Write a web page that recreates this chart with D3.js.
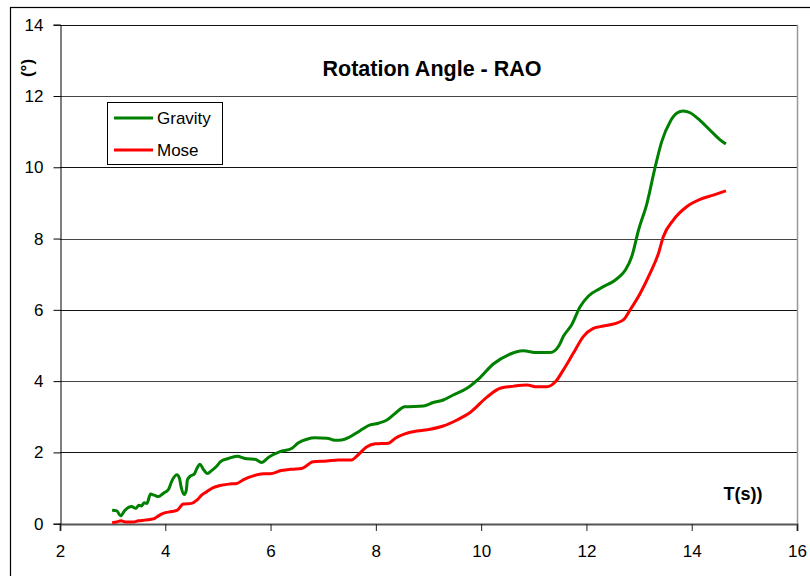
<!DOCTYPE html>
<html>
<head>
<meta charset="utf-8">
<script src="https://cdn.jsdelivr.net/npm/d3@7"></script>
<style>
  body { margin: 0; background: #fff; }
  svg { display: block; font-family: "Liberation Sans", Arial, sans-serif; }
</style>
</head>
<body>
<div class="svg"></div>
<script>
var gravityT = [2.99, 3.08, 3.15, 3.23, 3.36, 3.44, 3.50, 3.55, 3.60, 3.65, 3.72, 3.79, 3.87, 3.96, 4.06, 4.12,
  4.22, 4.27, 4.30, 4.36, 4.40, 4.42, 4.48, 4.55, 4.60, 4.66, 4.72, 4.80, 4.88, 4.98, 5.05, 5.20, 5.36,
  5.55, 5.70, 5.83, 5.97, 6.18, 6.40, 6.53, 6.69, 6.84, 7.07, 7.22, 7.35, 7.51, 7.70, 7.89, 8.05, 8.21,
  8.37, 8.55, 8.90, 9.09, 9.28, 9.47, 9.73, 9.98, 10.23, 10.52, 10.80, 11.06, 11.31, 11.48, 11.56, 11.72,
  11.88, 12.04, 12.26, 12.61, 12.74, 12.86, 12.99, 13.15, 13.30, 13.43, 13.59, 13.72, 13.84, 13.97, 14.16,
  14.41, 14.54, 14.65];
var gravityAngle = [0.38, 0.36, 0.22, 0.37, 0.48, 0.43, 0.52, 0.50, 0.59, 0.57, 0.83, 0.80, 0.76, 0.85, 0.96, 1.18,
  1.37, 1.27, 1.04, 0.82, 0.95, 1.23, 1.34, 1.39, 1.55, 1.67, 1.53, 1.41, 1.49, 1.62, 1.74, 1.83, 1.89,
  1.82, 1.81, 1.72, 1.87, 2.02, 2.11, 2.27, 2.37, 2.41, 2.40, 2.34, 2.35, 2.44, 2.61, 2.77, 2.82, 2.91,
  3.10, 3.28, 3.30, 3.40, 3.47, 3.61, 3.80, 4.10, 4.48, 4.74, 4.85, 4.80, 4.80, 5.00, 5.25, 5.58,
  6.09, 6.39, 6.60, 6.91, 7.12, 7.49, 8.24, 8.99, 9.97, 10.72, 11.28, 11.52, 11.58, 11.53, 11.31,
  10.95, 10.77, 10.65];

var moseT = [2.99, 3.08, 3.16, 3.24, 3.39, 3.49, 3.61, 3.71, 3.80, 3.87, 3.96, 4.12, 4.23, 4.34, 4.50, 4.60,
  4.69, 4.79, 4.91, 5.04, 5.20, 5.36, 5.48, 5.67, 5.86, 5.99, 6.20, 6.40, 6.59, 6.81, 7.07, 7.29, 7.54,
  7.64, 7.83, 7.99, 8.24, 8.37, 8.55, 8.78, 9.03, 9.28, 9.54, 9.79, 10.11, 10.36, 10.62, 10.87, 11.06,
  11.25, 11.41, 11.56, 11.75, 11.94, 12.13, 12.26, 12.45, 12.70, 12.83, 13.02, 13.21, 13.37, 13.46,
  13.65, 13.91, 14.16, 14.41, 14.65];
var moseAngle = [0.03, 0.05, 0.08, 0.05, 0.05, 0.08, 0.10, 0.12, 0.15, 0.22, 0.29, 0.34, 0.38, 0.55, 0.57, 0.66,
  0.80, 0.90, 1.01, 1.07, 1.11, 1.13, 1.23, 1.34, 1.40, 1.40, 1.49, 1.53, 1.55, 1.74, 1.76, 1.79, 1.79,
  1.90, 2.16, 2.24, 2.26, 2.40, 2.52, 2.60, 2.65, 2.74, 2.91, 3.12, 3.55, 3.80, 3.86, 3.89, 3.84,
  3.84, 3.98, 4.31, 4.78, 5.25, 5.48, 5.53, 5.58, 5.72, 6.00, 6.46, 7.03, 7.59, 8.05,
  8.52, 8.90, 9.10, 9.22, 9.34];

var xTicks = [2, 4, 6, 8, 10, 12, 14, 16];
var yTicks = [0, 2, 4, 6, 8, 10, 12, 14];
var seriesNames = ["Gravity", "Mose"];
var seriesColors = ["#008000", "#ff0000"];

var w = 810, h = 576;
var margin = { top: 25, left: 60, right: 13, bottom: 52 };

var svg = d3.select(".svg").append("svg").attr("width", w).attr("height", h);

// outer chart frame (right / bottom edges fall outside the picture)
svg.append("rect")
   .attr("x", 10.5).attr("y", 7.5)
   .attr("width", 820).attr("height", 600)
   .attr("fill", "none").attr("stroke", "#000").attr("stroke-width", 1.2);

var x = d3.scaleLinear().domain([2, 16]).range([margin.left, 797]);
var y = d3.scaleLinear().domain([0, 14]).range([523.7, 24.7]);

var chart = svg.append("g");

// gridlines
chart.selectAll(".grid")
     .data(yTicks.filter(function(d) { return d > 0; }))
     .enter().append("line")
     .attr("class", "grid")
     .attr("x1", x(2)).attr("x2", x(16))
     .attr("y1", function(d) { return Math.round(y(d)) + 0.5; })
     .attr("y2", function(d) { return Math.round(y(d)) + 0.5; })
     .attr("stroke", function(d, i) { return i % 2 ? "#444" : "#111"; })
     .attr("stroke-width", 1);

// right plot border
chart.append("line")
     .attr("x1", x(16) + 0.5).attr("x2", x(16) + 0.5)
     .attr("y1", y(14)).attr("y2", y(0))
     .attr("stroke", "#999").attr("stroke-width", 1.5);

var xAxis = d3.axisBottom(x).tickValues(xTicks).tickSize(7).tickPadding(14);
var yAxis = d3.axisLeft(y).tickValues(yTicks).tickSize(7).tickPadding(10);

var gx = chart.append("g")
     .attr("transform", "translate(0," + Math.round(y(0)) + ")")
     .call(xAxis);
gx.select(".domain").attr("stroke", "#555").attr("stroke-width", 2);
gx.selectAll(".tick line").attr("stroke", "#222");

var gy = chart.append("g")
     .attr("transform", "translate(" + (margin.left + 0.5) + ",0)")
     .call(yAxis);
gy.select(".domain").attr("stroke", "#000");
gy.selectAll(".tick line").attr("stroke", "#000");

svg.selectAll(".tick text")
   .style("font-size", "17px")
   .style("font-family", "'Liberation Sans', Arial, sans-serif")
   .attr("fill", "#000");

// series lines
var line = d3.line()
             .x(function(d) { return x(d[0]); })
             .y(function(d) { return y(d[1]); })
             .curve(d3.curveMonotoneX);

var gravityData = d3.zip(gravityT, gravityAngle);
var moseData = d3.zip(moseT, moseAngle);

chart.selectAll(".series")
     .data([gravityData, moseData])
     .enter().append("path")
     .attr("class", "series")
     .attr("d", line)
     .attr("fill", "none")
     .attr("stroke", function(d, i) { return seriesColors[i]; })
     .attr("stroke-width", 3)
     .attr("stroke-linejoin", "round");

// title and axis labels
svg.append("text")
   .attr("x", 432).attr("y", 76)
   .attr("text-anchor", "middle")
   .style("font-size", "21.5px").attr("font-weight", "bold")
   .text("Rotation Angle - RAO");

svg.append("text")
   .attr("transform", "translate(33,68) rotate(-90)")
   .attr("text-anchor", "middle")
   .style("font-size", "17px").attr("font-weight", "bold")
   .text("(°)");

svg.append("text")
   .attr("x", 743).attr("y", 500)
   .attr("text-anchor", "middle")
   .style("font-size", "18px").attr("font-weight", "bold")
   .text("T(s))");

// legend
var legend = svg.append("g");
legend.append("rect")
      .attr("x", 107.5).attr("y", 102.5)
      .attr("width", 115).attr("height", 62)
      .attr("fill", "#fff").attr("stroke", "#000").attr("stroke-width", 1);

var items = legend.selectAll(".item")
      .data(seriesNames)
      .enter().append("g")
      .attr("class", "item")
      .attr("transform", function(d, i) { return "translate(0," + (118 + i * 32) + ")"; });

items.append("line")
     .attr("x1", 114).attr("x2", 153)
     .attr("stroke", function(d, i) { return seriesColors[i]; })
     .attr("stroke-width", 3);

items.append("text")
     .attr("x", 157).attr("y", 6)
     .style("font-size", "17px")
     .text(function(d) { return d; });
</script>
</body>
</html>
